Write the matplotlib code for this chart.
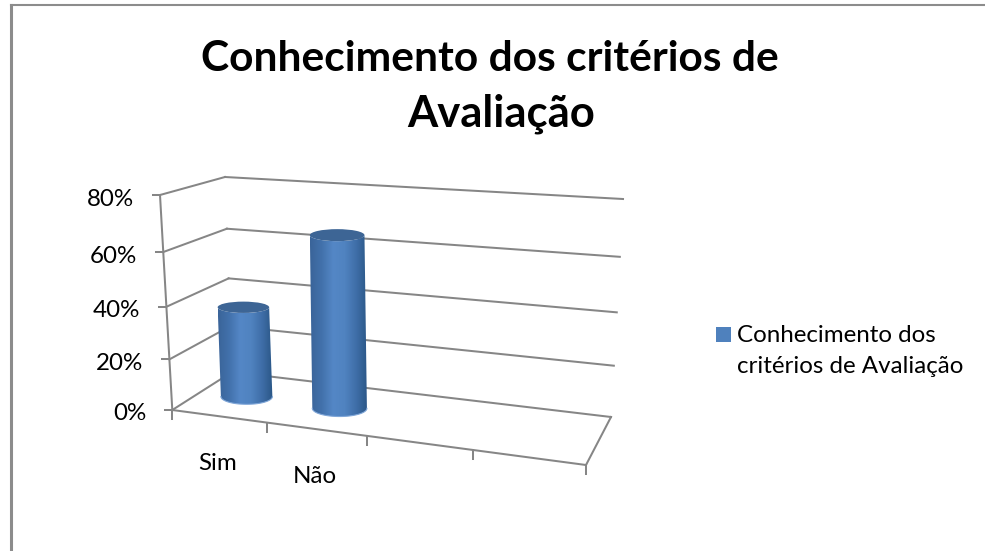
import numpy as np
import matplotlib
matplotlib.use("Agg")
import matplotlib.pyplot as plt
from matplotlib.patches import PathPatch, Ellipse, Rectangle
from matplotlib.path import Path
from matplotlib.colors import LinearSegmentedColormap

# Data
title_lines = ["Conhecimento dos critérios de", "Avaliação"]
categories = ["Sim", "Não"]
values = [36, 66]
y_ticks = [0, 20, 40, 60, 80]
y_tick_labels = ["0%", "20%", "40%", "60%", "80%"]
legend_lines = ["Conhecimento dos", "critérios de Avaliação"]
n_slots = 4
y_max = 80

W, H = 985, 551
fig = plt.figure(figsize=(W / 100, H / 100), dpi=100)
ax = fig.add_axes([0, 0, 1, 1])
ax.set_xlim(0, W)
ax.set_ylim(H, 0)
ax.axis("off")

FONT = "Lato"
GRID = "#868686"

# Box corners in pixels: (front/back, left/right, bottom/top)
C = {
    (0, 0, 0): (172.3, 410), (0, 0, 1): (160, 195),
    (1, 0, 0): (232, 372), (1, 0, 1): (225, 177),
    (1, 1, 0): (611, 417), (1, 1, 1): (623, 199),
    (0, 1, 0): (586, 465), (0, 1, 1): (593, 227),
}


def persp(t, k):
    return t / (1 + k * (1 - t))


def project(slot, depth, value):
    """Oblique-perspective scale: category slot, depth 0-1, value -> pixels."""
    a = persp(slot / n_slots, 0.13)
    c = persp(value / y_max, 0.083)
    pt = np.zeros(2)
    for i, wi in ((0, 1 - depth), (1, depth)):
        for j, wj in ((0, 1 - a), (1, a)):
            for l, wl in ((0, 1 - c), (1, c)):
                pt += wi * wj * wl * np.array(C[(i, j, l)])
    return pt


def seg(p, q, z=1, lw=1.45):
    ax.plot([p[0], q[0]], [p[1], q[1]], color=GRID, lw=lw, zorder=z,
            solid_capstyle="projecting")


# Chart frame
ax.plot([10.5, 10.5], [H, 5], color="#8c8c8c", lw=2.2, zorder=0, solid_capstyle="projecting")
ax.plot([10.5, W], [5, 5], color="#8c8c8c", lw=1.5, zorder=0, solid_capstyle="projecting")

# Walls and gridlines
for v, lab in zip(y_ticks, y_tick_labels):
    f = project(0, 0, v)
    b = project(0, 1, v)
    r = project(n_slots, 1, v)
    seg(f, b)
    seg(b, r)
    seg(f, f + np.array([-7, 0]))
    ax.text(f[0] - 26, f[1] + 2, lab, ha="right", va="center_baseline",
            fontsize=17.4, family=FONT, color="black")
seg(project(0, 0, 0), project(0, 0, y_max))
seg(project(0, 0, 0), project(n_slots, 0, 0))
seg(project(n_slots, 0, 0), project(n_slots, 1, 0))
for s in range(n_slots + 1):
    p = project(s, 0, 0)
    seg(p, p + np.array([0, 9]))

# Cylinders
cmap = LinearSegmentedColormap.from_list(
    "cyl", ["#3a6499", "#4271ab", "#5487c6", "#5083c0", "#3f6ea8", "#2a5686"])
grad = np.linspace(0, 1, 256).reshape(1, -1)
RADIUS = 0.285
for i, (cat, val) in enumerate(zip(categories, values)):
    s = i + 0.5
    base = project(s, 0.5, 0)
    top = project(s, 0.5, val)
    rx = (project(s + RADIUS, 0.5, 0)[0] - project(s - RADIUS, 0.5, 0)[0]) / 2
    ry_top, ry_bot = 0.22 * rx, 0.3 * rx
    theta = np.linspace(0, np.pi, 40)
    bottom = np.c_[base[0] + rx * np.cos(theta), base[1] + ry_bot * np.sin(theta)]
    cap = np.c_[top[0] - rx * np.cos(theta), top[1] + ry_top * np.sin(theta)]
    verts = np.vstack([bottom, cap, bottom[:1]])
    clip = PathPatch(Path(verts), transform=ax.transData, fc="none", ec="none")
    ax.add_patch(clip)
    x0 = min(top[0], base[0]) - rx
    x1 = max(top[0], base[0]) + rx
    im = ax.imshow(grad, cmap=cmap, extent=(x0, x1, base[1] + ry_bot, top[1] - ry_top),
                   aspect="auto", zorder=3, interpolation="bilinear")
    im.set_clip_path(clip)
    ax.add_patch(Ellipse(top, 2 * rx, 2 * ry_top, fc="#3d6595", ec="none", zorder=4))
    rim = np.c_[base[0] - rx * np.cos(theta), base[1] + ry_bot * np.sin(theta)]
    ax.plot(rim[:, 0], rim[:, 1], color="#7fa6d8", lw=0.8, zorder=4)
    # Category label
    fr = project(s, 0, 0)
    ax.text(fr[0] - 1, fr[1] + 54, cat, ha="center", va="baseline",
            fontsize=17.4, family=FONT, color="black")

ax.set_xlim(0, W)
ax.set_ylim(H, 0)

# Title
for line, xc, yb, fs in zip(title_lines, (489.5, 501.5), (71, 127), (30.6, 31.4)):
    ax.text(xc, yb, line, ha="center", va="baseline", fontsize=fs,
            fontweight="bold", family=FONT, color="black")

# Legend
ax.add_patch(Rectangle((716, 327), 15, 15, fc="#4f81bd", ec="none"))
for line, yb in zip(legend_lines, (342, 373)):
    ax.text(737, yb, line, ha="left", va="baseline", fontsize=17.4, family=FONT, color="black")

fig.savefig("out.png", dpi=100)
